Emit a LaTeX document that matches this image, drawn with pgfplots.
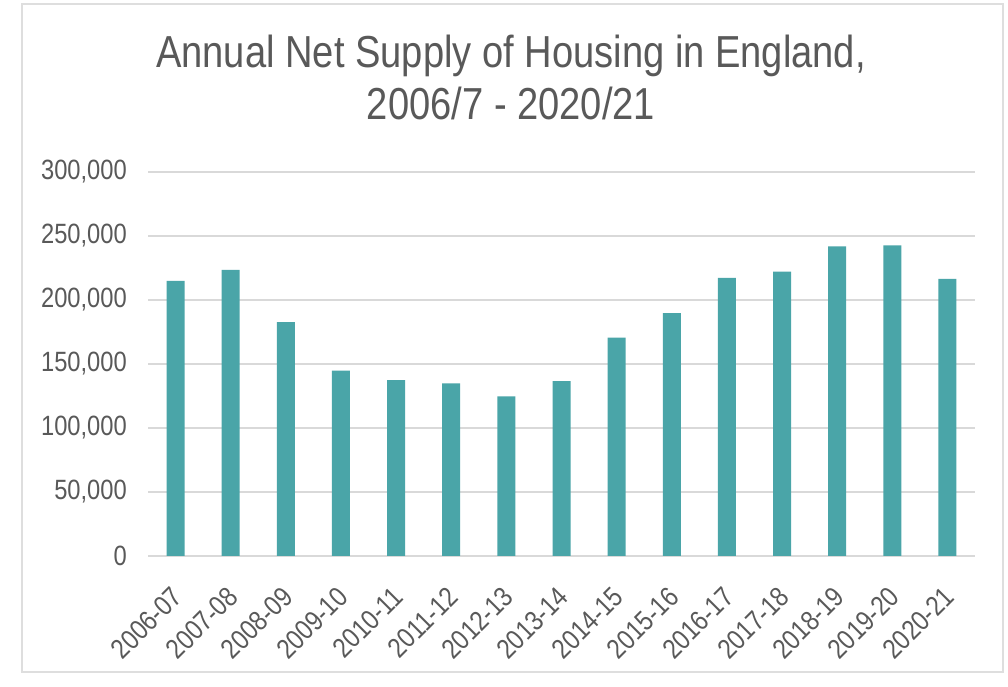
\documentclass[border=0pt]{standalone}
\usepackage{fontspec}
\setmainfont{Liberation Sans}[FakeStretch=0.85]
\usepackage{pgfplots}
\pgfplotsset{compat=1.18}
\definecolor{barteal}{RGB}{74,165,168}
\definecolor{txtgray}{RGB}{89,89,89}
\definecolor{gridgray}{RGB}{217,217,217}
\definecolor{framegray}{RGB}{222,222,222}

\begin{document}
\begin{tikzpicture}
\useasboundingbox (0,0) rectangle (1008bp,687bp);
\fill[white] (0,0) rectangle (1008bp,687bp);
\draw[framegray, line width=1.5bp] (22bp,15bp) rectangle (1003bp,683bp);
\begin{axis}[
  at={(148bp,131bp)}, anchor=south west,
  scale only axis, width=827bp, height=384bp,
  ybar, bar width=18bp,
  xmin=-0.5, xmax=14.5, ymin=0, ymax=300000,
  xtick=data,
  xticklabels={2006-07,2007-08,2008-09,2009-10,2010-11,2011-12,2012-13,2013-14,2014-15,2015-16,2016-17,2017-18,2018-19,2019-20,2020-21},
  ytick={0,50000,100000,150000,200000,250000,300000},
  scaled y ticks=false,
  ymajorgrids=true,
  grid style={gridgray, line width=1.3bp},
  axis line style={draw=none},
  major tick length=0pt,
  tick style={draw=none},
  tick label style={font=\fontsize{28}{34}\selectfont, text=txtgray},
  yticklabel style={inner sep=0pt, anchor=east, xshift=-21bp},
  xticklabel style={inner sep=0pt, yshift=-36bp, xshift=2bp, rotate=45, anchor=east},
  title={Annual Net Supply of Housing in England,\\2006/7 - 2020/21},
  title style={font=\fontsize{45}{52}\selectfont, text=txtgray, align=center,
    at={(0.5,1)}, anchor=base, inner sep=0pt, xshift=-50.5bp, yshift=47bp},
  /pgf/number format/fixed,
  /pgf/number format/precision=0,
  /pgf/number format/1000 sep={,},
  /pgf/number format/assume math mode=true,
]
\addplot[fill=barteal, draw=none] coordinates {
  (0,214940) (1,223530) (2,182770) (3,144870) (4,137390)
  (5,134900) (6,124720) (7,136610) (8,170690) (9,189650)
  (10,217350) (11,222190) (12,241880) (13,242700) (14,216490)
};
\end{axis}
\end{tikzpicture}
\end{document}
